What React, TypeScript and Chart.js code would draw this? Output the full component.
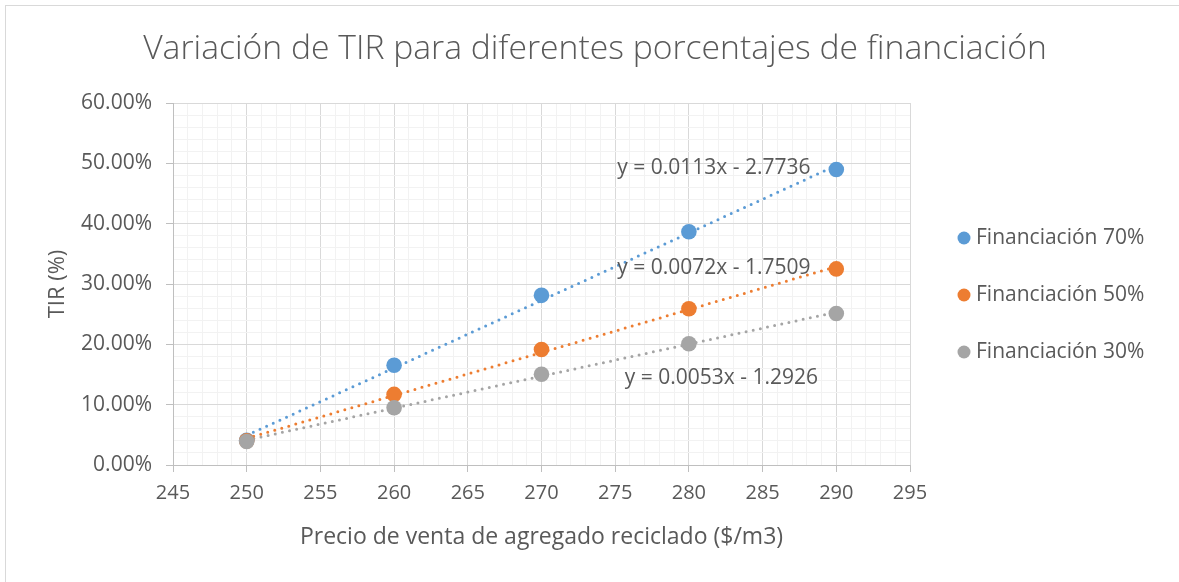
import React, { useEffect, useRef } from 'react';
import { Chart, registerables } from 'chart.js';

Chart.register(...registerables);

// ---- data ----
const prices = [250, 260, 270, 280, 290];
const tir70 = [0.041, 0.1654, 0.2812, 0.3865, 0.4897];
const tir50 = [0.040, 0.1170, 0.1914, 0.2590, 0.3250];
const tir30 = [0.039, 0.0950, 0.1505, 0.2010, 0.2510];
const seriesNames = ['Financiación 70%', 'Financiación 50%', 'Financiación 30%'];
const equationTexts = ['y = 0.0113x - 2.7736', 'y = 0.0072x - 1.7509', 'y = 0.0053x - 1.2926'];
const chartTitle = 'Variación de TIR para diferentes porcentajes de financiación';
const xAxisTitle = 'Precio de venta de agregado reciclado ($/m3)';
const yAxisTitle = 'TIR (%)';
const xRange = [245, 295];
const yRange = [0, 0.6];

// ---- styles / positions ----
const COLORS = ['#5B9BD5', '#ED7D31', '#A5A5A5'];
const TEXT = '#595959';
const FONT = "'Open Sans', 'Noto Sans', sans-serif";
const EQ_POS = [
  { x: 281.7, y: 0.493 },
  { x: 281.7, y: 0.326 },
  { x: 282.2, y: 0.144 },
];

function fitLine(xs: number[], ys: number[]) {
  const n = xs.length;
  const mx = xs.reduce((a, b) => a + b, 0) / n;
  const my = ys.reduce((a, b) => a + b, 0) / n;
  let sxy = 0, sxx = 0;
  for (let i = 0; i < n; i++) {
    sxy += (xs[i] - mx) * (ys[i] - my);
    sxx += (xs[i] - mx) * (xs[i] - mx);
  }
  const m = sxy / sxx;
  return { m, b: my - m * mx };
}

const W = 1179;
const H = 582;

export default function App() {
  const ref = useRef<HTMLCanvasElement | null>(null);

  useEffect(() => {
    const canvas = ref.current;
    if (!canvas) return;
    const series = [tir70, tir50, tir30];

    const pointSets = series.map((ys, i) => ({
      type: 'scatter' as const,
      label: seriesNames[i],
      data: prices.map((x, j) => ({ x, y: ys[j] })),
      backgroundColor: COLORS[i],
      borderColor: COLORS[i],
      pointRadius: 7.8,
      pointHoverRadius: 7.8,
      pointBorderWidth: 0,
      showLine: false,
      order: 3 - i,
    }));

    const trendSets = series.map((ys, i) => {
      const { m, b } = fitLine(prices, ys);
      const x0 = prices[0];
      const x1 = prices[prices.length - 1];
      return {
        type: 'line' as const,
        label: 'trend' + i,
        data: [
          { x: x0, y: m * x0 + b },
          { x: x1, y: m * x1 + b },
        ],
        borderColor: COLORS[i],
        borderWidth: 3,
        borderDash: [0, 7.3],
        borderCapStyle: 'round' as const,
        pointRadius: 0,
        fill: false,
        order: 10 + i,
      };
    });

    const bgPlugin = {
      id: 'bg',
      beforeDraw(chart: any) {
        const c = chart.ctx;
        c.save();
        c.fillStyle = '#ffffff';
        c.fillRect(0, 0, W, H);
        c.strokeStyle = '#D9D9D9';
        c.lineWidth = 1;
        c.strokeRect(5.5, 5.5, W + 20, H + 20);
        c.restore();
      },
    };

    const annPlugin = {
      id: 'ann',
      afterDraw(chart: any) {
        const c = chart.ctx;
        const xs = chart.scales.x;
        const ys = chart.scales.y;
        c.save();
        // title
        c.fillStyle = TEXT;
        c.textAlign = 'center';
        c.textBaseline = 'middle';
        let size = 32;
        c.font = `300 ${size}px ${FONT}`;
        const w = c.measureText(chartTitle).width;
        size = Math.min(34, (size * 904) / w);
        c.font = `300 ${size}px ${FONT}`;
        c.fillText(chartTitle, 595, 49);
        // equations
        c.font = `21px ${FONT}`;
        c.fillStyle = TEXT;
        equationTexts.forEach((t, i) => {
          c.fillText(t, xs.getPixelForValue(EQ_POS[i].x), ys.getPixelForValue(EQ_POS[i].y));
        });
        // legend
        c.textAlign = 'left';
        c.font = `21px ${FONT}`;
        seriesNames.forEach((name, i) => {
          const y = 238 + i * 57;
          c.beginPath();
          c.fillStyle = COLORS[i];
          c.arc(964, y, 6.5, 0, Math.PI * 2);
          c.fill();
          c.fillStyle = TEXT;
          c.fillText(name, 976, y);
        });
        c.restore();
      },
    };

    const chart = new Chart(canvas, {
      type: 'scatter',
      data: { datasets: [...pointSets, ...trendSets] as any },
      options: {
        responsive: false,
        animation: false,
        layout: { padding: { left: 0, right: W - 910, top: 103, bottom: 0 } },
        plugins: {
          legend: { display: false },
          title: { display: false },
          tooltip: { enabled: false },
        },
        scales: {
          x: {
            type: 'linear',
            min: xRange[0],
            max: xRange[1],
            afterFit(scale: any) {
              scale.height = H - 465;
            },
            ticks: {
              stepSize: 1,
              autoSkip: false,
              maxRotation: 0,
              minRotation: 0,
              padding: 9,
              color: TEXT,
              font: { family: FONT, size: 20 },
              callback: (v: any) => (Math.round(v) % 5 === 0 ? String(Math.round(v)) : ''),
            },
            grid: {
              color: (ctx: any) => (Math.round(ctx.tick.value) % 5 === 0 ? '#D9D9D9' : '#F2F2F2'),
              tickColor: (ctx: any) => (Math.round(ctx.tick.value) % 5 === 0 ? '#BFBFBF' : 'rgba(0,0,0,0)'),
              tickLength: 7,
              lineWidth: 1,
            },
            border: { display: true, color: '#BFBFBF' },
            title: {
              display: true,
              text: xAxisTitle,
              color: TEXT,
              font: { family: FONT, size: 23 },
              padding: { top: 0, bottom: 31 },
            },
          },
          y: {
            type: 'linear',
            min: yRange[0],
            max: yRange[1],
            afterFit(scale: any) {
              scale.width = 173;
            },
            ticks: {
              stepSize: 0.02,
              autoSkip: false,
              padding: 14,
              color: TEXT,
              font: { family: FONT, size: 21 },
              callback: (v: any) => {
                const p = Math.round(v * 100);
                return p % 10 === 0 ? p.toFixed(2) + '%' : '';
              },
            },
            grid: {
              color: (ctx: any) => (Math.round(ctx.tick.value * 100) % 10 === 0 ? '#D9D9D9' : '#F2F2F2'),
              tickColor: (ctx: any) => (Math.round(ctx.tick.value * 100) % 10 === 0 ? '#BFBFBF' : 'rgba(0,0,0,0)'),
              tickLength: 7,
              lineWidth: 1,
            },
            border: { display: true, color: '#BFBFBF' },
            title: {
              display: true,
              text: yAxisTitle,
              color: TEXT,
              font: { family: FONT, size: 22 },
              padding: { top: 45, bottom: 0 },
            },
          },
        },
      },
      plugins: [bgPlugin, annPlugin],
    });

    return () => chart.destroy();
  }, []);

  return (
    <div style={{ position: 'fixed', left: 0, top: 0, width: W, height: H, background: '#fff' }}>
      <canvas ref={ref} width={W} height={H} style={{ width: W, height: H, display: 'block' }} />
    </div>
  );
}
